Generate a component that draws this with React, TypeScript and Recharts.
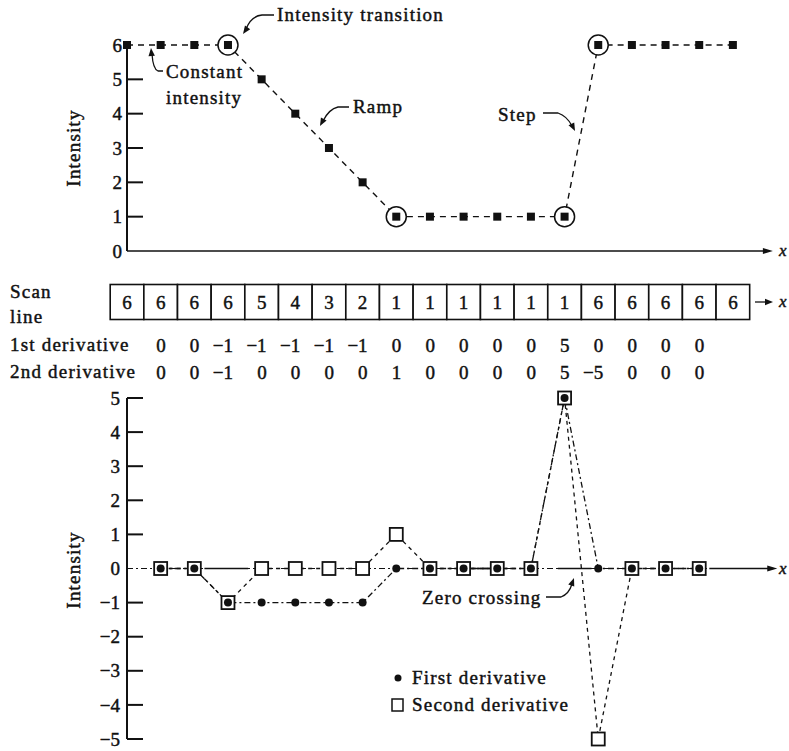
import { LineChart, Line, XAxis, YAxis, ReferenceLine, ReferenceDot, ScatterChart, Scatter } from 'recharts'

// values of the scan line and its derivatives (derivatives start at position 1)
const SCAN_LINE = [6, 6, 6, 6, 5, 4, 3, 2, 1, 1, 1, 1, 1, 1, 6, 6, 6, 6, 6]
const FIRST_DERIV = [0, 0, -1, -1, -1, -1, -1, 0, 0, 0, 0, 0, 5, 0, 0, 0, 0]
const SECOND_DERIV = [0, 0, -1, 0, 0, 0, 0, 1, 0, 0, 0, 0, 5, -5, 0, 0, 0]
const CIRCLED = [3, 8, 13, 14]
const TOP_TICKS = [0, 1, 2, 3, 4, 5, 6]
const BOTTOM_TICKS = [-5, -4, -3, -2, -1, 0, 1, 2, 3, 4, 5]

const FONT = '"Liberation Serif", "Times New Roman", Times, serif'
const INK = '#111'
const W = 789
const X_DOMAIN: [number, number] = [0, 19.4]
const TOP_AXIS_END = 19.07
const BOTTOM_AXIS_END = 19.2
const CELL_HALF = 16.8
const LS = 1.2
const TEXT_STROKE = 0.45

// where the x axis of the lower plot is drawn solid (elsewhere the series lines cover it)
const AXIS_SOLID = [[2.3, 3.6], [10.1, 10.9], [12.8, 13.8], [17.3, BOTTOM_AXIS_END]]

const topData = SCAN_LINE.map((v, i) => ({ i, v }))
const bottomData = FIRST_DERIV.map((d1, k) => ({ i: k + 1, d1, d2: SECOND_DERIV[k] }))

const ROW_Y = { scan: 22, first: 65, second: 92 }
const scanRow = SCAN_LINE.map((v, i) => ({ i, row: ROW_Y.scan, v }))
const firstRow = FIRST_DERIV.map((v, k) => ({ i: k + 1, row: ROW_Y.first, v }))
const secondRow = SECOND_DERIV.map((v, k) => ({ i: k + 1, row: ROW_Y.second, v }))

const fmt = (v: number) => (v < 0 ? '\u2212' + Math.abs(v) : String(v))

const textProps = {
  fontFamily: FONT,
  fontSize: 19,
  fill: INK,
  stroke: INK,
  strokeWidth: TEXT_STROKE,
}

const InTick = (props: any) => {
  const { x, y, payload, skip, margin } = props
  const ax = x + margin
  return (
    <g>
      {!skip.includes(payload.value) && (
        <line x1={ax} x2={ax + 16} y1={y} y2={y} stroke={INK} strokeWidth={2} />
      )}
      <text x={x} y={y} dy="0.35em" textAnchor="end" {...textProps}>
        {fmt(payload.value)}
      </text>
    </g>
  )
}

const SquareDot = (props: any) => {
  const { cx, cy, payload } = props
  if (cx == null || cy == null) return <g />
  return (
    <g>
      {CIRCLED.includes(payload.i) && (
        <circle cx={cx} cy={cy} r={10} fill="#fff" stroke={INK} strokeWidth={1.5} />
      )}
      <rect x={cx - 4} y={cy - 4} width={8} height={8} fill={INK} />
    </g>
  )
}

const OpenSquare = (props: any) => {
  const { cx, cy } = props
  if (cx == null || cy == null) return <g />
  return <rect x={cx - 6.5} y={cy - 6.5} width={13} height={13} fill="#fff" stroke={INK} strokeWidth={1.8} />
}

const FilledDot = (props: any) => {
  const { cx, cy } = props
  if (cx == null || cy == null) return <g />
  return <circle cx={cx} cy={cy} r={4} fill={INK} />
}

const AxisArrow = (props: any) => {
  const { cx, cy } = props
  return <polygon points={`${cx + 4},${cy} ${cx - 6},${cy - 3} ${cx - 6},${cy + 3}`} fill={INK} />
}

const ScanCell = (props: any) => {
  const { cx, cy, payload } = props
  return (
    <g>
      <rect x={cx - CELL_HALF} y={cy - 17.5} width={CELL_HALF * 2} height={35} fill="#fff" stroke={INK} strokeWidth={1.6} />
      <text x={cx} y={cy} dy="0.35em" textAnchor="middle" {...textProps}>
        {payload.v}
      </text>
    </g>
  )
}

const NumText = (props: any) => {
  const { cx, cy, payload } = props
  return (
    <text x={cx + 5} y={cy} dy="0.35em" textAnchor="end" {...textProps}>
      {fmt(payload.v)}
    </text>
  )
}

const Arrow = ({ x, y, angle }: { x: number; y: number; angle: number }) => (
  <polygon points="0,0 -8,-3.2 -8,3.2" transform={`translate(${x},${y}) rotate(${angle})`} fill={INK} />
)

const T = ({ x, y, children, italic, size }: any) => (
  <text
    x={x}
    y={y}
    {...textProps}
    fontSize={size ?? 19}
    letterSpacing={LS}
    fontStyle={italic ? 'italic' : 'normal'}
  >
    {children}
  </text>
)

const Overlay = () => (
  <svg width={W} height={751} style={{ position: 'absolute', left: 0, top: 0, pointerEvents: 'none' }}>
    <g stroke={INK} strokeWidth={1.3} fill="none">
      <path d="M 274 15 L 262 15 Q 251 16 246 29" />
      <path d="M 163 71 L 158 71 Q 153 69 152 54" />
      <path d="M 349 107 L 338 107 Q 329 109 323 121" />
      <path d="M 543 113 L 558 113 Q 567 116 572 126" />
      <path d="M 546 597 L 561 597 Q 569 594 572 584" />
      <line x1={755} x2={766} y1={302} y2={302} />
    </g>
    <Arrow x={243} y={34} angle={125} />
    <Arrow x={151} y={48} angle={-95} />
    <Arrow x={320} y={126} angle={118} />
    <Arrow x={575} y={131} angle={63} />
    <Arrow x={574} y={578} angle={-70} />
    <Arrow x={773} y={302} angle={0} />

    <T x={277} y={21}>Intensity transition</T>
    <T x={166} y={78}>Constant</T>
    <T x={166} y={104}>intensity</T>
    <T x={353} y={113}>Ramp</T>
    <T x={498} y={121}>Step</T>
    <T x={779} y={256} italic size={17}>x</T>
    <T x={779} y={307} italic size={17}>x</T>
    <T x={779} y={574} italic size={17}>x</T>

    <text transform="translate(80,148) rotate(-90)" textAnchor="middle" {...textProps} letterSpacing={LS}>
      Intensity
    </text>
    <text transform="translate(80,570) rotate(-90)" textAnchor="middle" {...textProps} letterSpacing={LS}>
      Intensity
    </text>

    <T x={10} y={298}>Scan</T>
    <T x={10} y={323}>line</T>
    <T x={10} y={351}>1st derivative</T>
    <T x={10} y={378}>2nd derivative</T>

    <T x={422} y={604}>Zero crossing</T>
    <circle cx={398} cy={678} r={3.5} fill={INK} />
    <T x={412} y={684}>First derivative</T>
    <rect x={392} y={699} width={11} height={12} fill="#fff" stroke={INK} strokeWidth={1.5} />
    <T x={412} y={711}>Second derivative</T>
  </svg>
)

export default function App() {
  return (
    <div style={{ position: 'absolute', left: 0, top: 0, width: W, height: 751, background: '#fff' }}>
      {/* upper plot: intensity profile */}
      <div style={{ position: 'absolute', left: 0, top: 0 }}>
        <LineChart width={W} height={270} data={topData} margin={{ top: 45, right: 9, bottom: 19, left: 97 }}>
          <XAxis type="number" dataKey="i" domain={X_DOMAIN} hide />
          <YAxis
            type="number"
            domain={[0, 6]}
            ticks={TOP_TICKS}
            interval={0}
            width={30}
            tickSize={0}
            tickMargin={5}
            tickLine={false}
            axisLine={{ stroke: INK, strokeWidth: 2 }}
            tick={<InTick skip={[0, 6]} margin={5} />}
          />
          <ReferenceLine segment={[{ x: 0, y: 0 }, { x: TOP_AXIS_END, y: 0 }]} stroke={INK} strokeWidth={1.5} />
          <ReferenceDot x={TOP_AXIS_END} y={0} shape={<AxisArrow />} ifOverflow="visible" />
          <Line
            type="linear"
            dataKey="v"
            stroke={INK}
            strokeWidth={1.4}
            strokeDasharray="6 5"
            dot={<SquareDot />}
            activeDot={false}
            isAnimationActive={false}
          />
        </LineChart>
      </div>

      {/* scan line table */}
      <div style={{ position: 'absolute', left: 0, top: 280 }}>
        <ScatterChart width={W} height={110} margin={{ top: 0, right: 9, bottom: 0, left: 127 }}>
          <XAxis type="number" dataKey="i" domain={X_DOMAIN} hide />
          <YAxis type="number" dataKey="row" domain={[0, 110]} reversed hide />
          <Scatter data={scanRow} shape={<ScanCell />} isAnimationActive={false} />
          <Scatter data={firstRow} shape={<NumText />} isAnimationActive={false} />
          <Scatter data={secondRow} shape={<NumText />} isAnimationActive={false} />
        </ScatterChart>
      </div>

      {/* lower plot: derivatives */}
      <div style={{ position: 'absolute', left: 0, top: 380 }}>
        <LineChart width={W} height={371} data={bottomData} margin={{ top: 18, right: 9, bottom: 12, left: 97 }}>
          <XAxis type="number" dataKey="i" domain={X_DOMAIN} hide />
          <YAxis
            type="number"
            domain={[-5, 5]}
            ticks={BOTTOM_TICKS}
            interval={0}
            width={30}
            tickSize={0}
            tickMargin={7}
            tickLine={false}
            axisLine={{ stroke: INK, strokeWidth: 2 }}
            tick={<InTick skip={[0]} margin={7} />}
          />
          <ReferenceLine
            segment={[{ x: 0, y: 0 }, { x: BOTTOM_AXIS_END, y: 0 }]}
            stroke={INK}
            strokeWidth={1.2}
            strokeDasharray="6 3 2 3"
          />
          {AXIS_SOLID.map(([a, b]) => (
            <ReferenceLine
              key={a}
              segment={[{ x: a, y: 0 }, { x: b, y: 0 }]}
              stroke={INK}
              strokeWidth={1.5}
            />
          ))}
          <ReferenceDot x={BOTTOM_AXIS_END} y={0} shape={<AxisArrow />} ifOverflow="visible" />
          <Line
            type="linear"
            dataKey="d2"
            stroke={INK}
            strokeWidth={1.3}
            strokeDasharray="4 4"
            dot={<OpenSquare />}
            activeDot={false}
            isAnimationActive={false}
          />
          <Line
            type="linear"
            dataKey="d1"
            stroke={INK}
            strokeWidth={1.3}
            strokeDasharray="6 3 2 3"
            dot={<FilledDot />}
            activeDot={false}
            isAnimationActive={false}
          />
        </LineChart>
      </div>

      <Overlay />
    </div>
  )
}
